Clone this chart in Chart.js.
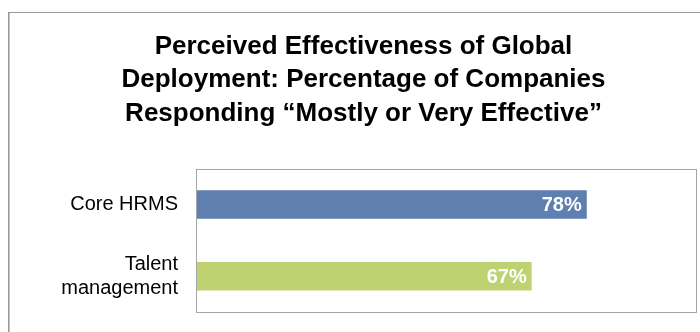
<!DOCTYPE html>
<html>
<head>
<meta charset="utf-8">
<script src="https://cdn.jsdelivr.net/npm/chart.js@4"></script>
<style>
  html, body { margin: 0; padding: 0; background: #fff; }
  #wrap { width: 700px; height: 332px; }
</style>
</head>
<body>
<div id="wrap"><canvas id="chartCanvas" width="700" height="332"></canvas></div>
<script>
// Données du graphique
var titleLines = ['Perceived Effectiveness of Global', 'Deployment: Percentage of Companies', 'Responding \u201cMostly or Very Effective\u201d'];
var categories = ['Core HRMS', ['Talent', 'management']];
var values = [78, 67];
var barColors = ['#5E7FAF', '#BFD271'];

var fontFamily = '"Liberation Sans", Arial, sans-serif';
var padLeft = 30;

// Cadre extérieur + bordure de la zone de tracé
var framePlugin = {
    id: 'frame',
    beforeDraw: function (chart) {
        var ctx = chart.ctx;
        ctx.save();
        ctx.fillStyle = '#fff';
        ctx.fillRect(0, 0, chart.width, chart.height);
        ctx.strokeStyle = '#999';
        ctx.lineWidth = 1;
        ctx.strokeRect(8.5, 12.5, 760, 400);
        ctx.beginPath();
        ctx.moveTo(9.5, 13);
        ctx.lineTo(9.5, 332);
        ctx.strokeStyle = '#c4c4c4';
        ctx.stroke();
        ctx.restore();
    },
    afterDatasetsDraw: function (chart) {
        var ctx = chart.ctx;
        var a = chart.chartArea;
        ctx.save();
        ctx.strokeStyle = '#a6a6a6';
        ctx.lineWidth = 1;
        ctx.strokeRect(Math.round(a.left) + 0.5, Math.round(a.top) + 0.5, Math.round(a.right - a.left) - 1, Math.round(a.bottom - a.top));
        ctx.restore();
    }
};

// Étiquettes de valeurs dans les barres
var valueLabels = {
    id: 'valueLabels',
    afterDatasetsDraw: function (chart) {
        var ctx = chart.ctx;
        var meta = chart.getDatasetMeta(0);
        ctx.save();
        ctx.fillStyle = '#fff';
        ctx.font = 'bold 20px ' + fontFamily;
        ctx.textAlign = 'right';
        ctx.textBaseline = 'middle';
        meta.data.forEach(function (bar, i) {
            ctx.fillText(values[i] + '%', bar.x - 5, bar.y + 1);
        });
        ctx.restore();
    }
};

var chart = new Chart(document.getElementById('chartCanvas'), {
    type: 'bar',
    data: {
        labels: categories,
        datasets: [{
            data: values,
            backgroundColor: barColors,
            borderWidth: 0,
            barPercentage: 0.794,
            categoryPercentage: 0.5
        }]
    },
    options: {
        indexAxis: 'y',
        responsive: false,
        animation: false,
        layout: { padding: { top: 14, right: 3, bottom: 20, left: padLeft } },
        plugins: {
            legend: { display: false },
            tooltip: { enabled: false },
            title: {
                display: true,
                text: titleLines,
                color: '#000',
                font: { family: fontFamily, size: 26, weight: 'bold', lineHeight: 1.29 },
                padding: { top: 16, bottom: 38 }
            }
        },
        scales: {
            x: { display: false, min: 0, max: 100 },
            y: {
                afterFit: function (scale) {
                    scale.width = 196 - padLeft;
                    scale.paddingTop = 0;
                    scale.paddingBottom = 0;
                },
                grid: { display: false },
                border: { display: false },
                ticks: {
                    color: '#000',
                    padding: 10,
                    font: { family: fontFamily, size: 20, lineHeight: 1.2 }
                }
            }
        }
    },
    plugins: [framePlugin, valueLabels]
});
</script>
</body>
</html>
